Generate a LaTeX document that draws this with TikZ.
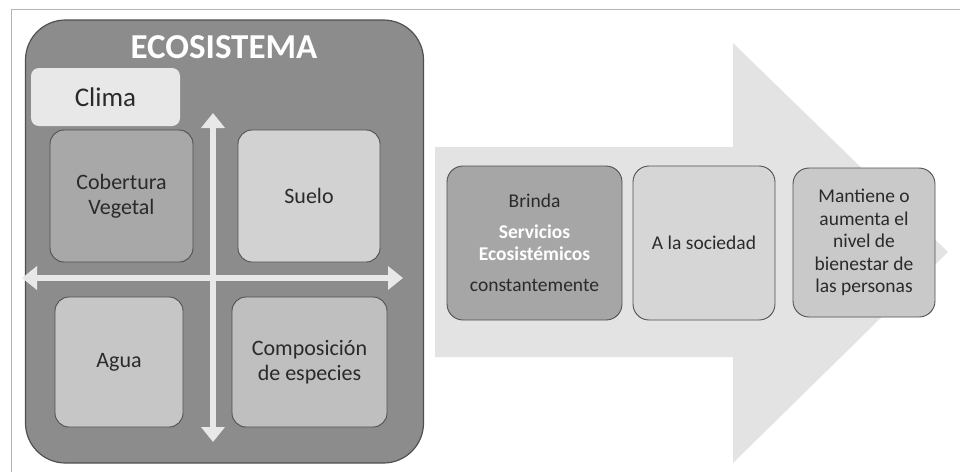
\documentclass[tikz,border=0pt]{standalone}
\usepackage{fontspec}
\setmainfont{Carlito}
\usetikzlibrary{arrows.meta}
\definecolor{ecogray}{HTML}{8C8C8C}
\definecolor{framegray}{HTML}{B4B4B4}
\definecolor{inkgray}{HTML}{2A2A2A}
\definecolor{edgegray}{HTML}{505050}
\definecolor{flowgray}{HTML}{E3E3E3}
\definecolor{axisgray}{HTML}{E8E8E8}
\tikzset{
    every node/.style={font=\fontsize{22}{25}\selectfont, text=inkgray,
    	align=center, inner sep=0pt}
}
\tikzset{
    quadbox/.style={rectangle, rounded corners=14pt, draw=edgegray,
    	line width=0.9pt},
    flowbox/.style={rectangle, rounded corners=16pt, draw=edgegray,
    	line width=0.9pt, font=\fontsize{19.5}{22.5}\selectfont}
}
\tikzset{
	axis/.style={draw=axisgray, line width=6pt,
	{Triangle[width=23pt,length=15pt]}-{Triangle[width=23pt,length=15pt]}}
}
\newcommand{\whitebf}[1]{\textcolor{white}{\bfseries #1}}

\begin{document}
\begin{tikzpicture}[x=1pt, y=-1pt]
  \useasboundingbox (0,0) rectangle (960,472);
  \draw[framegray, line width=1pt] (11,472) -- (11,9) -- (960,9);

  \fill[flowgray] (435,147) -- (733,147) -- (733,43) -- (948,252)
    -- (733,463) -- (733,357) -- (435,357) -- cycle;

  \node (eco) [rectangle, rounded corners=40pt, fill=ecogray, draw=edgegray,
    line width=1.2pt, minimum width=398pt, minimum height=443pt]
    at (224.5,241.5) {};
  \node (title) [text=white, font=\fontsize{35}{40}\selectfont\bfseries]
    at (224,47) {ECOSISTEMA};
  \node (clima) [rectangle, rounded corners=8pt, fill=axisgray,
    minimum width=149pt, minimum height=58pt, font=\fontsize{27}{30}\selectfont]
    at (105.5,97) {Clima};

  \node (cob) [quadbox, fill=gray!68, minimum width=143pt, minimum height=132pt]
    at (121.5,196) {Cobertura\\Vegetal};
  \node (suelo) [quadbox, fill=gray!35, minimum width=142pt, minimum height=132pt]
    at (309,196) {Suelo};
  \node (agua) [quadbox, fill=gray!45, minimum width=128pt, minimum height=130pt]
    at (119,362) {Agua};
  \node (comp) [quadbox, fill=gray!50, minimum width=155pt, minimum height=130pt]
    at (309.5,362) {Composición\\de especies};

  \coordinate (vtop) at (213,113);
  \coordinate (vbot) at (213,442);
  \coordinate (hleft) at (22,278);
  \coordinate (hright) at (403,278);
  \draw[axis] (hleft) -- (hright);
  \draw[axis] (vbot) -- (vtop);

  \node (brinda) [flowbox, fill=gray!70, minimum width=175pt, minimum height=154pt]
    at (534.5,243) {Brinda\\[8pt]\whitebf{Servicios}\\\whitebf{Ecosistémicos}\\[8pt]constantemente};
  \node (soc) [flowbox, fill=gray!32, minimum width=142pt, minimum height=154pt]
    at (704,243) {A la sociedad};
  \node (bien) [flowbox, fill=gray!42, minimum width=142pt, minimum height=149pt]
    at (864,242.5) {Mantiene o\\aumenta el\\nivel de\\bienestar de\\las personas};
\end{tikzpicture}
\end{document}
